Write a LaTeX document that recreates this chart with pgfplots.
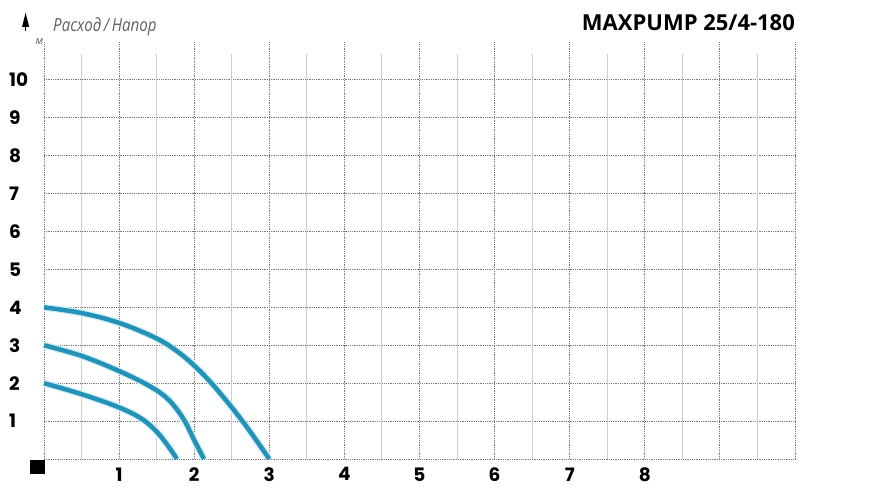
\documentclass[border=0pt]{standalone}
\usepackage{pgfplots}
\pgfplotsset{compat=1.18}
\usepackage{pgfplotstable}
\usepackage{fontspec}
\setmainfont{Open Sans}
\newfontfamily\poppins{Poppins}
\definecolor{curve}{RGB}{36,145,182}
\definecolor{halo}{RGB}{205,238,248}
\definecolor{gridmaj}{RGB}{120,120,120}
\definecolor{gridmin}{RGB}{205,205,205}

% Q-H curves, three speeds
\pgfplotstableread{
x y
0 4
0.5 3.85
1 3.59
1.5 3.18
1.8 2.8
2.05 2.37
2.3 1.84
2.65 0.98
3 0
}\speedthree
\pgfplotstableread{
x y
0 3
0.5 2.72
1 2.32
1.4 1.93
1.65 1.58
1.85 1.08
2 0.5
2.13 0
}\speedtwo
\pgfplotstableread{
x y
0 2
0.5 1.71
1 1.36
1.3 1.06
1.5 0.72
1.65 0.35
1.77 0
}\speedone

\pgfplotsset{
  halo line/.style={halo, line width=7pt, smooth, tension=0.6},
  qh line/.style={curve, line width=4.5pt, smooth, tension=0.6},
}

\begin{document}
\begin{tikzpicture}
\useasboundingbox (-44pt,-35pt) rectangle (830pt,459pt);
\begin{axis}[
  at={(0,0)}, anchor=south west,
  scale only axis, width=751pt, height=417pt,
  xmin=0, xmax=10, ymin=0, ymax=11,
  clip=false,
  axis line style={draw=none},
  major tick length=0pt,
  xtick={0,...,10}, ytick={0,...,10},
  xticklabels={,1,2,3,4,5,6,7,8,,},
  yticklabels={,1,2,3,4,5,6,7,8,9,10},
  xmajorgrids, ymajorgrids,
  major grid style={gridmaj, line width=0.9pt, dash pattern=on 1pt off 0.8pt},
  tick label style={font=\poppins\bfseries\fontsize{18.5}{18.5}\selectfont, black},
  yticklabel style={anchor=west, inner sep=0pt, xshift=-35pt},
  xticklabel style={anchor=north, yshift=-5pt},
]
% half-unit lines, shorter than the dotted ones
\pgfplotsinvokeforeach{0.5,1.5,2.5,3.5,4.5,5.5,6.5,7.5,8.5,9.5}{
  \draw[gridmin, line width=1pt] (axis cs:#1,0) -- (axis cs:#1,10.69);
}
\addplot[halo line] table[x=x,y=y] {\speedthree};
\addplot[halo line] table[x=x,y=y] {\speedtwo};
\addplot[halo line] table[x=x,y=y] {\speedone};
\addplot[qh line] table[x=x,y=y] {\speedthree};
\addplot[qh line] table[x=x,y=y] {\speedtwo};
\addplot[qh line] table[x=x,y=y] {\speedone};

\node[anchor=south east, font=\bfseries\fontsize{22}{22}\selectfont, inner sep=0pt]
  at (axis cs:10,11.3) {MAXPUMP 25/4-180};
\node[anchor=base west, font=\itshape\fontsize{18}{18}\selectfont, text=gray!75!black, inner sep=0pt]
  at (axis cs:0.12,11.27) {\scalebox{0.84}[1]{Расход\,/\,Напор}};
\node[anchor=base, font=\itshape\fontsize{11}{11}\selectfont, text=gray!75!black, inner sep=0pt]
  at (axis cs:-0.06,10.93) {м};
\fill[black] (axis cs:-0.245,11.77) -- (axis cs:-0.292,11.4) -- (axis cs:-0.198,11.4) -- cycle;
\draw[black, line width=1.3pt] (axis cs:-0.245,11.45) -- (axis cs:-0.245,11.3);
\fill[black] (axis cs:-0.18,-0.03) rectangle (axis cs:0.01,-0.4);
\end{axis}
\end{tikzpicture}
\end{document}
